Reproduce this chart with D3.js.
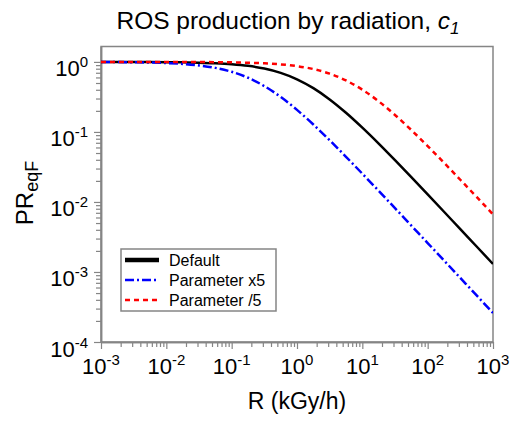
<!DOCTYPE html>
<html>
<head>
<meta charset="utf-8">
<script src="https://cdn.jsdelivr.net/npm/d3@7"></script>
<style>
  html, body { margin: 0; padding: 0; background: #fff; }
  svg { display: block; font-family: "Liberation Sans", Arial, sans-serif; }
</style>
</head>
<body>
<svg id="chart" width="512" height="422"></svg>
<script>
// ---- data ----
const R = [0.001, 0.00178, 0.00316, 0.00562, 0.01, 0.0178, 0.0316, 0.0562, 0.1, 0.178, 0.316, 0.562,
           1, 1.78, 3.16, 5.62, 10, 17.8, 31.6, 56.2, 100, 178, 316, 562, 1000];
const defaultPR = [0.9992, 0.9986, 0.9976, 0.9957, 0.9924, 0.9865, 0.9763, 0.9586, 0.9286, 0.8797, 0.8044, 0.6981,
                   0.5652, 0.4223, 0.2914, 0.1878, 0.1150, 0.0681, 0.0395, 0.0226, 0.01283, 0.00725, 0.00409, 0.00231, 0.00130];
const paramX5 = [0.9962, 0.9932, 0.9880, 0.9788, 0.9630, 0.9359, 0.8916, 0.8222, 0.7222, 0.5939, 0.4512, 0.3162,
                 0.2063, 0.1276, 0.0760, 0.0442, 0.02534, 0.01441, 0.00816, 0.00460, 0.00259, 0.001460, 0.000822, 0.000462, 0.000260];
const paramDiv5 = [0.9999, 0.9997, 0.9995, 0.9992, 0.9985, 0.9973, 0.9953, 0.9917, 0.9853, 0.9741, 0.9549, 0.9226,
                   0.8701, 0.7903, 0.6794, 0.5437, 0.4012, 0.2737, 0.1748, 0.1065, 0.0628, 0.0363, 0.02075, 0.01178, 0.00665];
const seriesNames = ["Default", "Parameter x5", "Parameter /5"];
const xTickExps = [-3, -2, -1, 0, 1, 2, 3];
const yTickExps = [-4, -3, -2, -1, 0];

// ---- layout ----
const svg = d3.select("#chart");
const L = 101, Rt = 493, T = 46.5, B = 342;
const grey = "#858585";

const x = d3.scaleLog().domain([1e-3, 1e3]).range([L, Rt]);
const y = d3.scaleLog().domain([1e-4, 1.66]).range([B, T]);

// minor tick values
const xMinor = [], yMinor = [];
for (let e = -3; e < 3; e++) for (let m = 2; m <= 9; m++) xMinor.push(m * Math.pow(10, e));
for (let e = -4; e < 0; e++) for (let m = 2; m <= 9; m++) yMinor.push(m * Math.pow(10, e));

// frame (top and right)
svg.append("rect").attr("x", L).attr("y", T).attr("width", Rt - L).attr("height", B - T)
  .attr("fill", "none").attr("stroke", grey).attr("stroke-width", 1.5);

// axes
function styleAxis(g) {
  g.select(".domain").attr("stroke", grey).attr("stroke-width", 1.5);
  g.selectAll(".tick line").attr("stroke", grey).attr("stroke-width", 1.2);
  g.selectAll(".tick text").remove();
}
const xMajor = xTickExps.map(e => Math.pow(10, e));
const yMajor = yTickExps.map(e => Math.pow(10, e));

svg.append("g").attr("transform", `translate(0,${B})`)
  .call(d3.axisBottom(x).tickValues(xMinor).tickSize(5).tickSizeOuter(0).tickFormat(""))
  .call(styleAxis);
svg.append("g").attr("transform", `translate(0,${B})`)
  .call(d3.axisBottom(x).tickValues(xMajor).tickSize(7).tickSizeOuter(0).tickFormat(""))
  .call(styleAxis);
svg.append("g").attr("transform", `translate(${L},0)`)
  .call(d3.axisLeft(y).tickValues(yMinor).tickSize(5).tickSizeOuter(0).tickFormat(""))
  .call(styleAxis);
svg.append("g").attr("transform", `translate(${L},0)`)
  .call(d3.axisLeft(y).tickValues(yMajor).tickSize(7).tickSizeOuter(0).tickFormat(""))
  .call(styleAxis);

// tick labels
xTickExps.forEach(e => {
  const t = svg.append("text").attr("x", x(Math.pow(10, e))).attr("y", 374)
    .attr("text-anchor", "middle").attr("font-size", 22).attr("fill", "#000");
  t.append("tspan").text("10");
  t.append("tspan").attr("dy", -9).attr("font-size", 15).text(e === 0 ? "0" : (e < 0 ? "-" + (-e) : String(e)));
});
yTickExps.forEach(e => {
  const t = svg.append("text").attr("x", 88).attr("y", y(Math.pow(10, e)) + 14.5)
    .attr("text-anchor", "end").attr("font-size", 22).attr("fill", "#000");
  t.append("tspan").text("10");
  t.append("tspan").attr("dy", -9).attr("font-size", 15).text(e === 0 ? "0" : (e < 0 ? "-" + (-e) : String(e)));
});

// axis titles
svg.append("text").attr("x", 297).attr("y", 409).attr("text-anchor", "middle")
  .attr("font-size", 23).text("R (kGy/h)");
const yl = svg.append("text").attr("transform", "translate(33,193) rotate(-90)")
  .attr("text-anchor", "middle").attr("font-size", 24);
yl.append("tspan").text("PR");
yl.append("tspan").attr("dy", 5).attr("font-size", 18).text("eqF");

// title
const tt = svg.append("text").attr("x", 288).attr("y", 29).attr("text-anchor", "middle").attr("font-size", 24.5);
tt.append("tspan").text("ROS production by radiation, ");
tt.append("tspan").attr("font-style", "italic").text("c");
tt.append("tspan").attr("font-style", "italic").attr("font-size", 17).attr("dy", 5).text("1");

// clip
svg.append("clipPath").attr("id", "plotclip").append("rect")
  .attr("x", L).attr("y", T).attr("width", Rt - L).attr("height", B - T);

const line = d3.line().x(d => x(d[0])).y(d => y(d[1])).curve(d3.curveMonotoneX);
const styles = [
  { data: defaultPR, color: "#000000", dash: null, width: 2.5, lw: 4.5 },
  { data: paramX5, color: "#0000ff", dash: "9,3,2,3", width: 2.5, lw: 2.5 },
  { data: paramDiv5, color: "#ff0000", dash: "5,4", width: 2.5, lw: 2.5 }
];
const plot = svg.append("g").attr("clip-path", "url(#plotclip)");
styles.forEach(s => {
  plot.append("path").datum(R.map((r, i) => [r, s.data[i]]))
    .attr("d", line).attr("fill", "none").attr("stroke", s.color)
    .attr("stroke-width", s.width).attr("stroke-dasharray", s.dash);
});

// legend
const lg = svg.append("g");
lg.append("rect").attr("x", 121).attr("y", 249).attr("width", 155).attr("height", 62)
  .attr("fill", "#fff").attr("stroke", grey).attr("stroke-width", 1.5);
styles.forEach((s, i) => {
  const yy = 260 + i * 20;
  lg.append("line").attr("x1", 125).attr("x2", 159).attr("y1", yy).attr("y2", yy)
    .attr("stroke", s.color).attr("stroke-width", s.lw).attr("stroke-dasharray", s.dash);
  lg.append("text").attr("x", 169).attr("y", yy + 6).attr("font-size", 16).text(seriesNames[i]);
});
</script>
</body>
</html>
